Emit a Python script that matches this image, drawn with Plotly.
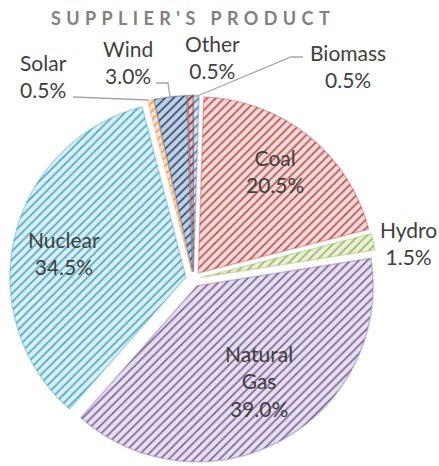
import plotly.graph_objects as go

# ---- data ----
labels = ["Biomass", "Coal", "Hydro", "Natural Gas", "Nuclear", "Solar", "Wind", "Other"]
values = [0.5, 20.5, 1.5, 39.0, 34.5, 0.5, 3.0, 0.5]
title_text = "SUPPLIER'S PRODUCT"

# ---- styles ----
line_colors = ["#4F81BD", "#C0504D", "#9BBB59", "#8064A2", "#4BACC6", "#F79646", "#2C4D75", "#772C2A"]
bg_colors = ["#DCE6F1", "#F2DCDB", "#EBF1DE", "#E6E0EC", "#DAEEF3", "#FDE9D9", "#C3D0E2", "#E3C8C7"]
edge_colors = ["rgba(79,129,189,0.4)", "rgba(192,80,77,0.4)", "rgba(155,187,89,0.4)",
               "rgba(128,100,162,0.4)", "rgba(75,172,198,0.4)", "rgba(247,150,70,0.4)",
               "rgba(44,77,117,0.4)", "rgba(119,44,42,0.4)"]

W, H = 439, 466
# label block centres (pixels)
label_pos = {
    "Biomass": (348, 66),
    "Coal": (275, 171),
    "Hydro": (408, 243),
    "Natural Gas": (259, 381),
    "Nuclear": (64, 253),
    "Solar": (43, 76),
    "Wind": (128, 62),
    "Other": (212, 57),
}
# leader lines (pixels)
leaders = [
    [(73, 97), (148, 100)],
    [(156, 83), (168, 83), (170, 97)],
    [(303, 57), (291, 57), (195, 97)],
]


def px(x, y):
    return x / W, 1 - y / H


fig = go.Figure(go.Pie(
    labels=labels,
    values=values,
    sort=False,
    direction="clockwise",
    rotation=0,
    pull=0.044,
    textinfo="none",
    hoverinfo="label+percent",
    marker=dict(
        colors=bg_colors,
        line=dict(color=edge_colors, width=1.5),
        pattern=dict(shape="/", fgcolor=line_colors, bgcolor=bg_colors,
                     size=6, solidity=0.28, fillmode="replace"),
    ),
    domain=dict(x=[0.0221, 0.8590], y=[0.0071, 0.7955]),
    showlegend=False,
))

annotations = []
for lab, v in zip(labels, values):
    x, y = label_pos[lab]
    ax, ay = px(x, y)
    annotations.append(dict(
        x=ax, y=ay, xref="paper", yref="paper", xanchor="center", yanchor="middle",
        text=lab.replace(" ", "<br>") + "<br>" + f"{v:.1f}%",
        showarrow=False, align="center",
        font=dict(family="Lato, sans-serif", size=21, color="#404040"),
    ))

shapes = []
for pts in leaders:
    path = "M " + " L ".join(f"{px(x, y)[0]:.4f},{px(x, y)[1]:.4f}" for x, y in pts)
    shapes.append(dict(type="path", path=path, xref="paper", yref="paper",
                       line=dict(color="#A6A6A6", width=1.3)))

fig.update_layout(
    width=W, height=H,
    margin=dict(l=0, r=0, t=0, b=0),
    paper_bgcolor="white",
    plot_bgcolor="white",
    title=dict(text=title_text, x=193 / W, y=1 - 19 / H, xref="container", yref="container",
               xanchor="center", yanchor="middle",
               font=dict(family="Lato, sans-serif", size=18, color="#808080", weight="bold")),
    annotations=annotations,
    shapes=shapes,
)

post = """
document.documentElement.style.margin = '0';
document.body.style.margin = '0';
document.body.style.overflow = 'hidden';
var gd = document.getElementById('{plot_id}');
var t = gd.querySelector('.gtitle');
if (t) { t.style.letterSpacing = '5.4px'; }
"""
fig.write_html("out.html", post_script=post, config={"displayModeBar": False})
